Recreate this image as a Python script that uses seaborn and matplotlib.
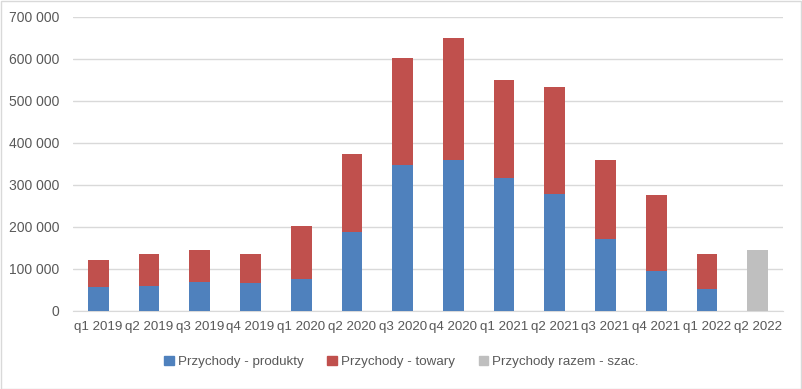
import pandas as pd
import seaborn as sns
import matplotlib.pyplot as plt
from matplotlib.patches import Patch
from matplotlib.ticker import FuncFormatter

quarters = ["q1 2019", "q2 2019", "q3 2019", "q4 2019", "q1 2020", "q2 2020", "q3 2020",
            "q4 2020", "q1 2021", "q2 2021", "q3 2021", "q4 2021", "q1 2022", "q2 2022"]
produkty = [57000, 60000, 69000, 67000, 76000, 189000, 348000,
            360000, 317000, 279000, 171000, 95000, 52000, None]
towary = [64000, 76000, 76000, 69000, 126000, 185000, 254000,
          290000, 233000, 254000, 189000, 181000, 84000, None]
szac_quarter = ["q2 2022"]
szac_total = [145000]

df = pd.DataFrame({"kw": quarters, "produkty": produkty, "towary": towary})
df = df.dropna()
df["razem"] = df["produkty"] + df["towary"]
df_szac = pd.DataFrame({"kw": szac_quarter, "razem": szac_total})

sns.set_style("white")
plt.rcParams['font.family'] = ['Liberation Sans', 'DejaVu Sans']

blue = "#4F81BD"
red = "#C0504D"
grey = "#BFBFBF"

fig = plt.figure(figsize=(8.03, 3.89), dpi=100)
ax = fig.add_axes([73/803, 1-311/389, 710/803, 294/389])

kw = dict(x="kw", order=quarters, width=0.41, saturation=1, ax=ax, zorder=3,
          linewidth=0, edgecolor="none")
sns.barplot(data=df, y="razem", color=red, **kw)
sns.barplot(data=df, y="produkty", color=blue, **kw)
sns.barplot(data=df_szac, y="razem", color=grey, **kw)

ax.set_ylim(0, 700000)
ax.set_xlim(-0.5, len(quarters)-0.5)
ax.set_yticks(range(0, 700001, 100000))
ax.yaxis.set_major_formatter(FuncFormatter(lambda v, p: f"{int(v):,}".replace(",", " ")))
ax.grid(axis="y", color="#D9D9D9", linewidth=1, zorder=0)
for s in ["top", "right", "left"]:
    ax.spines[s].set_visible(False)
ax.spines["bottom"].set_color("#D9D9D9")
ax.tick_params(axis="y", length=0, labelsize=10, colors="#595959", pad=10)
ax.tick_params(axis="x", length=0, labelsize=9.6, colors="#595959", pad=7)
ax.set_xlabel("")
ax.set_ylabel("")

handles = [Patch(color=blue, label="Przychody - produkty"),
           Patch(color=red, label="Przychody - towary"),
           Patch(color=grey, label="Przychody razem - szac.")]
fig.legend(handles=handles, loc="center", bbox_to_anchor=(0.5, 1-362/389), ncol=3,
           frameon=False, fontsize=9.6, handlelength=0.7, handleheight=0.7,
           handletextpad=0.3, columnspacing=1.8, labelcolor="#595959")

fig.patches.append(plt.Rectangle((0.001, 0.001), 0.997, 0.997, transform=fig.transFigure,
                                 fill=False, edgecolor="#D9D9D9", linewidth=1))
fig.savefig("out.png", dpi=100)
